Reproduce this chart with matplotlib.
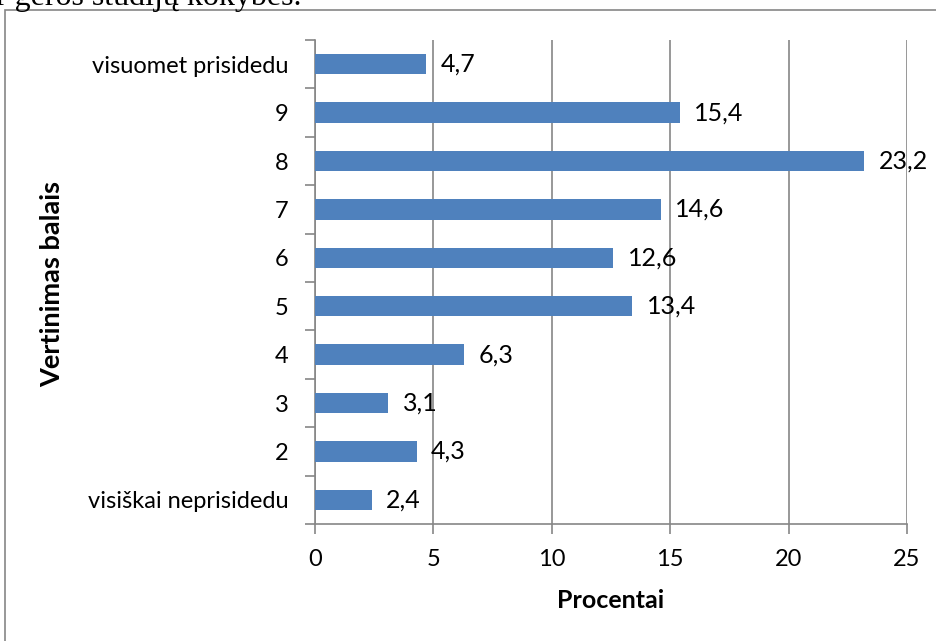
import numpy as np
import matplotlib.pyplot as plt
from matplotlib.patches import Rectangle

# Data (bottom to top)
categories = ['visiškai neprisidedu', '2', '3', '4', '5', '6', '7', '8', '9', 'visuomet prisidedu']
values = [2.4, 4.3, 3.1, 6.3, 13.4, 12.6, 14.6, 23.2, 15.4, 4.7]
labels = ['2,4', '4,3', '3,1', '6,3', '13,4', '12,6', '14,6', '23,2', '15,4', '4,7']
x_ticks = [0, 5, 10, 15, 20, 25]

plt.rcParams['font.family'] = ['Lato', 'DejaVu Sans']

fig = plt.figure(figsize=(9.36, 6.41), dpi=100)
ax = fig.add_axes([0.3365, 0.1825, 0.9690 - 0.3365, 0.9376 - 0.1825])

y = np.arange(len(categories))
ax.barh(y, values, height=0.42, color='#4f81bd', zorder=3)

for yi, v, lab in zip(y, values, labels):
    ax.text(v + 0.6, yi, lab, va='center', ha='left', fontsize=18, color='black', zorder=4)

ax.set_xlim(0, 25)
ax.set_ylim(-0.5, len(categories) - 0.5)
ax.set_xticks(x_ticks)
ax.set_xticklabels([str(t) for t in x_ticks], fontsize=17)
ax.set_yticks(y)
ax.set_yticklabels(categories, fontsize=17)
ax.set_yticks(np.arange(-0.5, len(categories), 1), minor=True)

ax.grid(axis='x', color='#868686', linewidth=1.2, zorder=0)
for s in ['top', 'right']:
    ax.spines[s].set_visible(False)
for s in ['left', 'bottom']:
    ax.spines[s].set_color('#868686')
    ax.spines[s].set_linewidth(1.2)

ax.tick_params(axis='y', which='major', length=0, pad=19)
ax.tick_params(axis='y', which='minor', length=7, color='#868686', width=1.2)
ax.tick_params(axis='x', which='major', length=7, color='#868686', width=1.2, pad=11)

ax.set_xlabel('Procentai', fontsize=18, fontweight='bold', labelpad=14)
fig.text(0.056, 0.557, 'Vertinimas balais', rotation=90, fontsize=19.5, fontweight='bold',
         ha='center', va='center')

# chart border
fig.patches.append(Rectangle((5 / 936, -0.05), 1.0, 1 - 10 / 641 + 0.05, transform=fig.transFigure,
                             fill=False, edgecolor='#868686', linewidth=1.2))

# cut-off caption line above the chart
fig.text(-0.004, 1 - 5 / 641, 'r geros studijų kokybės.', fontsize=23, family=['Liberation Serif'],
         ha='left', va='baseline')

fig.savefig('out.png', dpi=100)
